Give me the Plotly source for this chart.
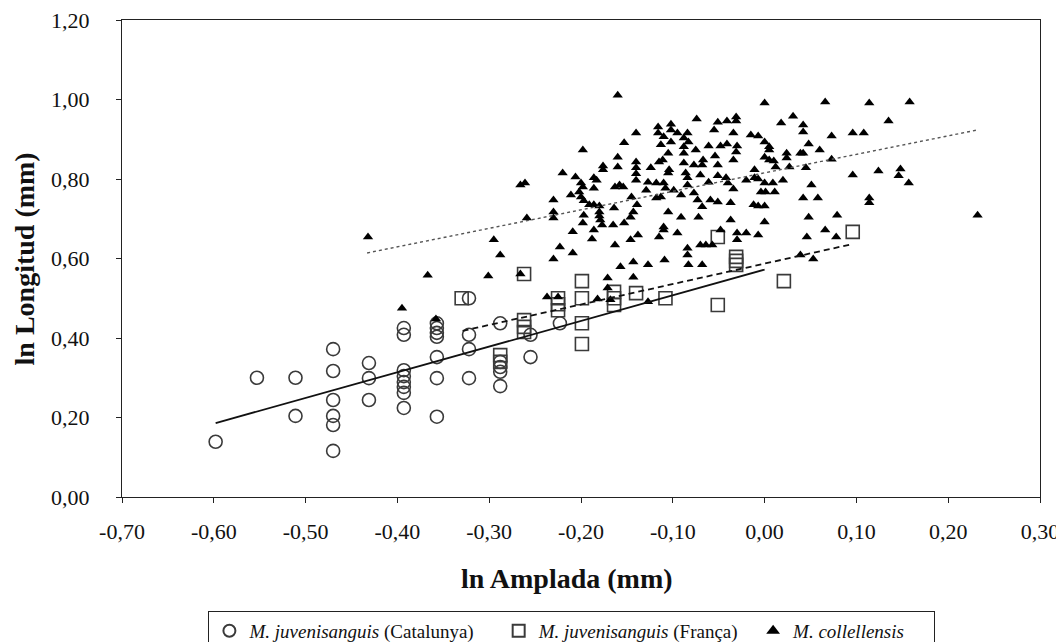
import plotly.graph_objects as go

# ---------------- data ----------------
cat_x = [-0.598, -0.553, -0.511, -0.511,
         -0.470, -0.470, -0.470, -0.470, -0.470, -0.470,
         -0.431, -0.431, -0.431,
         -0.393, -0.393, -0.393, -0.393, -0.393, -0.393, -0.393, -0.393,
         -0.357, -0.357, -0.357, -0.357, -0.357, -0.357, -0.357,
         -0.322, -0.322, -0.322, -0.322,
         -0.288, -0.288, -0.288, -0.288, -0.288,
         -0.255, -0.255, -0.223]
cat_y = [0.139, 0.300, 0.300, 0.204,
         0.372, 0.317, 0.244, 0.204, 0.181, 0.116,
         0.337, 0.299, 0.244,
         0.425, 0.408, 0.319, 0.304, 0.289, 0.277, 0.262, 0.224,
         0.437, 0.425, 0.413, 0.403, 0.352, 0.299, 0.202,
         0.500, 0.408, 0.372, 0.299,
         0.437, 0.340, 0.327, 0.315, 0.279,
         0.408, 0.352, 0.437]

fra_x = [-0.330, -0.288, -0.288, -0.262, -0.262, -0.262, -0.262,
         -0.225, -0.225, -0.225, -0.199, -0.199, -0.199, -0.199,
         -0.164, -0.164, -0.164, -0.140, -0.108, -0.051, -0.051,
         -0.031, -0.031, -0.031, 0.021, 0.096]
fra_y = [0.500, 0.357, 0.340, 0.561, 0.445, 0.428, 0.415,
         0.500, 0.485, 0.470, 0.543, 0.500, 0.437, 0.385,
         0.516, 0.500, 0.483, 0.513, 0.500, 0.654, 0.483,
         0.604, 0.594, 0.584, 0.543, 0.667]

col_x = [-0.160, -0.140, -0.153, -0.198, -0.160, -0.160, -0.140, -0.140, -0.140, -0.140,
         -0.176, -0.176, -0.206, -0.186, -0.183, -0.220, -0.200, -0.198, -0.202, -0.200,
         -0.197, -0.186, -0.163, -0.158, -0.154, -0.145, -0.139, -0.143, -0.146, -0.191,
         -0.186, -0.180, -0.180, -0.180, -0.179, -0.177, -0.164, -0.197, -0.198, -0.186,
         -0.209, -0.165, -0.153, -0.138, -0.259, -0.230, -0.230, -0.230, -0.295, -0.288,
         -0.223, -0.209, -0.230, -0.367, -0.301, -0.266, -0.237, -0.225, -0.395, -0.358,
         -0.432, -0.157, -0.143, -0.143, -0.171, -0.171, -0.168, -0.163, -0.146, -0.188,
         -0.182, -0.266, -0.261, -0.211,
         -0.074, -0.051, -0.041, -0.031, -0.031, -0.116, -0.102, -0.102, -0.095, -0.084,
         -0.055, -0.034, -0.116, -0.110, -0.088,
         -0.113, -0.102, -0.088, -0.061, -0.048, -0.041, -0.030, -0.124, -0.115, -0.111,
         -0.104, -0.105, -0.088, -0.077, -0.068, -0.051, -0.034, -0.086, -0.084, -0.084,
         -0.070, -0.127, -0.118, -0.110, -0.108, -0.099, -0.061, -0.051, -0.042, -0.040,
         -0.034, -0.129, -0.118, -0.113, -0.091, -0.077, -0.073, -0.059, -0.051, -0.068,
         -0.037, -0.105, -0.091, -0.072, -0.037, -0.110, -0.110, -0.115, -0.095, -0.048,
         -0.030, -0.030, -0.070, -0.064, -0.057, -0.084, -0.084, -0.105, -0.088, -0.075,
         -0.054, -0.031, -0.083, -0.067, -0.127, -0.109, -0.068, -0.083, -0.127,
         0.000, 0.066, 0.114, 0.158, 0.031, 0.018, 0.042, 0.042, 0.135, -0.015,
         -0.007, 0.073, 0.096, 0.108, 0.000, 0.005, 0.005, 0.048, 0.060, 0.024,
         0.024, 0.039, 0.042, 0.000, 0.005, 0.010, 0.073, 0.012, 0.027, 0.045,
         -0.011, -0.020, -0.011, -0.007, 0.096, 0.124, 0.148, 0.146, 0.157, 0.020,
         0.000, 0.009, -0.004, 0.001, 0.011, 0.051, -0.012, -0.007, 0.000, 0.042,
         0.058, 0.114, 0.114, 0.000, 0.048, 0.079, 0.232, -0.020, -0.007, 0.066,
         0.046, 0.078, 0.039, 0.053]
col_y = [1.011, 0.916, 0.891, 0.873, 0.855, 0.830, 0.843, 0.828, 0.813, 0.797,
         0.833, 0.823, 0.805, 0.803, 0.797, 0.815, 0.790, 0.780, 0.767, 0.755,
         0.745, 0.777, 0.780, 0.785, 0.780, 0.755, 0.735, 0.717, 0.704, 0.735,
         0.735, 0.732, 0.717, 0.707, 0.697, 0.684, 0.727, 0.709, 0.689, 0.672,
         0.667, 0.684, 0.689, 0.659, 0.702, 0.747, 0.717, 0.702, 0.647, 0.609,
         0.629, 0.614, 0.599, 0.558, 0.556, 0.561, 0.503, 0.503, 0.475, 0.448,
         0.654, 0.579, 0.591, 0.553, 0.551, 0.526, 0.496, 0.634, 0.647, 0.649,
         0.498, 0.785, 0.790, 0.760,
         0.951, 0.943, 0.946, 0.956, 0.946, 0.931, 0.938, 0.923, 0.916, 0.916,
         0.923, 0.916, 0.916, 0.906, 0.903,
         0.886, 0.893, 0.881, 0.883, 0.883, 0.888, 0.883, 0.828, 0.843, 0.848,
         0.823, 0.815, 0.840, 0.835, 0.835, 0.835, 0.848, 0.815, 0.803, 0.785,
         0.810, 0.792, 0.790, 0.790, 0.777, 0.772, 0.792, 0.808, 0.803, 0.790,
         0.775, 0.772, 0.752, 0.755, 0.760, 0.765, 0.747, 0.747, 0.742, 0.730,
         0.740, 0.717, 0.704, 0.704, 0.697, 0.679, 0.672, 0.654, 0.664, 0.672,
         0.664, 0.647, 0.634, 0.634, 0.634, 0.626, 0.609, 0.865, 0.865, 0.873,
         0.858, 0.868, 0.893, 0.848, 0.584, 0.596, 0.584, 0.584, 0.491,
         0.991, 0.994, 0.991, 0.994, 0.958, 0.941, 0.936, 0.918, 0.946, 0.911,
         0.908, 0.908, 0.916, 0.916, 0.893, 0.881, 0.873, 0.888, 0.873, 0.865,
         0.853, 0.865, 0.865, 0.855, 0.848, 0.845, 0.850, 0.830, 0.830, 0.828,
         0.823, 0.797, 0.803, 0.800, 0.810, 0.820, 0.825, 0.808, 0.790, 0.797,
         0.790, 0.790, 0.767, 0.767, 0.767, 0.785, 0.735, 0.732, 0.732, 0.752,
         0.752, 0.752, 0.740, 0.692, 0.704, 0.709, 0.709, 0.664, 0.659, 0.672,
         0.654, 0.654, 0.609, 0.599]

# linear trend lines (end points)
trend_cat_x = [-0.598, 0.0]
trend_cat_y = [0.186, 0.572]
trend_fra_x = [-0.329, 0.095]
trend_fra_y = [0.418, 0.636]
trend_col_x = [-0.433, 0.231]
trend_col_y = [0.614, 0.923]

x_ticks = [-0.7, -0.6, -0.5, -0.4, -0.3, -0.2, -0.1, 0.0, 0.1, 0.2, 0.3]
x_labels = ["-0,70", "-0,60", "-0,50", "-0,40", "-0,30", "-0,20", "-0,10",
            "0,00", "0,10", "0,20", "0,30"]
y_ticks = [0.0, 0.2, 0.4, 0.6, 0.8, 1.0, 1.2]
y_labels = ["0,00", "0,20", "0,40", "0,60", "0,80", "1,00", "1,20"]

NB = "\u00a0"
names = ["<i>M. juvenisanguis</i> (Catalunya)" + NB * 4,
         "<i>M. juvenisanguis</i> (França)" + NB * 2,
         "<i>M. collellensis</i>" + NB * 5]
x_title = "<b>ln Amplada (mm)</b>"
y_title = "<b>ln Longitud (mm)</b>"

FONT = "Liberation Serif"
INK = "#111111"

fig = go.Figure()
fig.add_trace(go.Scatter(
    x=cat_x, y=cat_y, mode="markers", name=names[0],
    marker=dict(symbol="circle-open", size=13, color="#3a3a3a", line=dict(width=1.6))))
fig.add_trace(go.Scatter(
    x=fra_x, y=fra_y, mode="markers", name=names[1],
    marker=dict(symbol="square-open", size=13, color="#3a3a3a", line=dict(width=1.6))))
fig.add_trace(go.Scatter(
    x=col_x, y=col_y, mode="markers", name=names[2],
    marker=dict(symbol="triangle-up", size=9, color="#000000", line=dict(width=0))))
fig.add_trace(go.Scatter(
    x=trend_cat_x, y=trend_cat_y, mode="lines", showlegend=False,
    line=dict(color=INK, width=1.8)))
fig.add_trace(go.Scatter(
    x=trend_fra_x, y=trend_fra_y, mode="lines", showlegend=False,
    line=dict(color=INK, width=1.8, dash="6px,4px")))
fig.add_trace(go.Scatter(
    x=trend_col_x, y=trend_col_y, mode="lines", showlegend=False,
    line=dict(color="#555555", width=1.4, dash="dot")))

# the page body has an 8px default margin, so the figure is 8px smaller
fig.update_layout(
    width=1056, height=634,
    margin=dict(l=114, r=24, t=12, b=145, autoexpand=False),
    paper_bgcolor="white", plot_bgcolor="white",
    font=dict(family=FONT, color=INK),
    showlegend=True,
    legend=dict(
        orientation="h", xref="container", yref="container",
        x=0.534, y=0.049, xanchor="center", yanchor="top",
        bordercolor="#222222", borderwidth=1,
        font=dict(family=FONT, size=19, color=INK),
        itemsizing="constant", itemwidth=30,
    ),
    annotations=[
        dict(text=x_title, xref="paper", yref="paper", x=0.485, y=-0.170,
             xanchor="center", yanchor="middle", showarrow=False,
             font=dict(family=FONT, size=28, color=INK)),
        dict(text=y_title, xref="paper", yref="paper", x=-0.1057, y=0.5,
             xanchor="center", yanchor="middle", showarrow=False, textangle=-90,
             font=dict(family=FONT, size=28, color=INK)),
    ],
)
fig.update_xaxes(
    range=[-0.70, 0.30], tickvals=x_ticks, ticktext=x_labels,
    showgrid=False, zeroline=False, automargin=False,
    showline=True, linecolor="#222222", linewidth=1, mirror=True,
    ticks="outside", ticklen=5, tickcolor="#222222",
    ticklabelstandoff=10, ticklabeloverflow="allow",
    tickfont=dict(family=FONT, size=22, color=INK),
)
fig.update_yaxes(
    range=[0, 1.20], tickvals=y_ticks, ticktext=y_labels,
    showgrid=False, zeroline=False, automargin=False,
    showline=True, linecolor="#222222", linewidth=1, mirror=True,
    ticks="outside", ticklen=5, tickcolor="#222222",
    ticklabelstandoff=22, ticklabeloverflow="allow",
    tickfont=dict(family=FONT, size=22, color=INK),
)

fig.write_html("out.html")
